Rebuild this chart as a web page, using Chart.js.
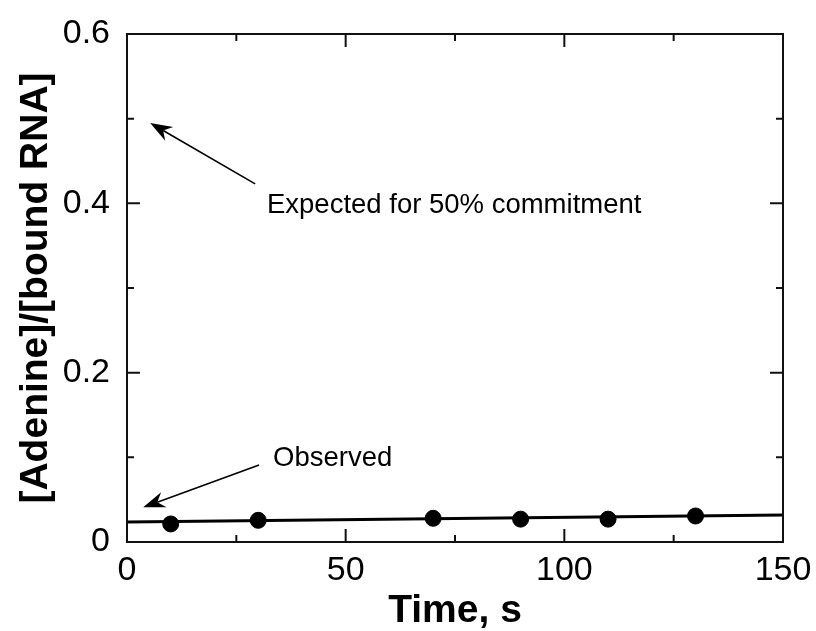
<!DOCTYPE html>
<html>
<head>
<meta charset="utf-8">
<title>Adenine / bound RNA vs time</title>
<script src="https://cdn.jsdelivr.net/npm/chart.js"></script>
<style>
  html, body { margin: 0; padding: 0; background: #fff; }
</style>
</head>
<body>
<canvas id="chart" width="816" height="631"></canvas>
<script>
// observed points
const timeS = [10, 30, 70, 90, 110, 130];
const ratio = [0.0213, 0.0256, 0.028, 0.027, 0.027, 0.0307];
// linear fit, read at the two ends of the time axis
const fitTime = [0, 150];
const fitRatio = [0.0236, 0.032];
// tick marks (drawn inward on all four sides)
const xMajor = [0, 50, 100, 150];
const xMinor = [25, 75, 125];
const yMajor = [0, 0.2, 0.4, 0.6];
const yMinor = [0.1, 0.3, 0.5];
// arrow notes, in data units: text anchor, arrow tail, arrow head
const noteText = ['Expected for 50% commitment', 'Observed'];
const noteAt = [[32.0, 0.389], [33.4, 0.090]];
const arrowFrom = [[29.3, 0.423], [30.2, 0.091]];
const arrowTo = [[5.3, 0.495], [3.7, 0.041]];

const FONT = '"Liberation Sans", Arial, Helvetica, sans-serif';
Chart.defaults.font.family = FONT;
Chart.defaults.color = '#000';

// box, inward ticks and the arrow notes
const framePlugin = {
  id: 'frame',
  afterDraw(chart) {
    const { ctx, chartArea: a, scales: { x, y } } = chart;
    ctx.save();
    ctx.strokeStyle = '#111';
    ctx.lineWidth = 2;
    ctx.strokeRect(a.left, a.top, a.right - a.left, a.bottom - a.top);

    const xTicks = (vals, len) => vals.forEach(v => {
      const px = x.getPixelForValue(v);
      ctx.beginPath();
      ctx.moveTo(px, a.bottom); ctx.lineTo(px, a.bottom - len);
      ctx.moveTo(px, a.top); ctx.lineTo(px, a.top + len);
      ctx.stroke();
    });
    const yTicks = (vals, len) => vals.forEach(v => {
      const py = y.getPixelForValue(v);
      ctx.beginPath();
      ctx.moveTo(a.left, py); ctx.lineTo(a.left + len, py);
      ctx.moveTo(a.right, py); ctx.lineTo(a.right - len, py);
      ctx.stroke();
    });
    xTicks(xMajor, 13); xTicks(xMinor, 7);
    yTicks(yMajor, 13); yTicks(yMinor, 7);

    // arrows
    ctx.fillStyle = '#000';
    ctx.strokeStyle = '#000';
    for (let i = 0; i < arrowFrom.length; i++) {
      const x0 = x.getPixelForValue(arrowFrom[i][0]), y0 = y.getPixelForValue(arrowFrom[i][1]);
      const x1 = x.getPixelForValue(arrowTo[i][0]), y1 = y.getPixelForValue(arrowTo[i][1]);
      const ang = Math.atan2(y1 - y0, x1 - x0);
      const L = 22, W = 8, N = 15;
      const cos = Math.cos(ang), sin = Math.sin(ang);
      ctx.lineWidth = 1.6;
      ctx.beginPath();
      ctx.moveTo(x0, y0);
      ctx.lineTo(x1 - cos * N, y1 - sin * N);
      ctx.stroke();
      ctx.beginPath();
      ctx.moveTo(x1, y1);
      ctx.lineTo(x1 - cos * L - sin * W, y1 - sin * L + cos * W);
      ctx.lineTo(x1 - cos * N, y1 - sin * N);
      ctx.lineTo(x1 - cos * L + sin * W, y1 - sin * L - cos * W);
      ctx.closePath();
      ctx.fill();
    }

    ctx.font = '27.5px ' + FONT;
    ctx.textAlign = 'left';
    ctx.textBaseline = 'alphabetic';
    noteText.forEach((t, i) => {
      ctx.fillText(t, x.getPixelForValue(noteAt[i][0]), y.getPixelForValue(noteAt[i][1]));
    });
    ctx.restore();
  }
};

const ctx = document.getElementById('chart').getContext('2d');
new Chart(ctx, {
  type: 'scatter',
  data: {
    datasets: [
      {
        label: 'Observed',
        data: timeS.map((t, i) => ({ x: t, y: ratio[i] })),
        pointRadius: 8,
        pointBackgroundColor: '#000',
        pointBorderColor: '#000',
        showLine: false,
        order: 0
      },
      {
        label: 'Fit',
        data: fitTime.map((t, i) => ({ x: t, y: fitRatio[i] })),
        showLine: true,
        pointRadius: 0,
        borderColor: '#000',
        borderWidth: 3,
        order: 1
      }
    ]
  },
  options: {
    responsive: false,
    animation: false,
    layout: { padding: { top: 34, right: 33, left: 0, bottom: 0 } },
    plugins: { legend: { display: false }, tooltip: { enabled: false } },
    scales: {
      x: {
        type: 'linear',
        min: 0,
        max: 150,
        grid: { display: false },
        border: { display: false },
        ticks: { stepSize: 50, font: { size: 34 }, padding: 0 },
        title: {
          display: true,
          text: 'Time, s',
          font: { size: 39, weight: 'bold', lineHeight: 1.0 },
          padding: { top: 0, bottom: 0 }
        },
        afterFit: s => { s.height = 89; }
      },
      y: {
        min: 0,
        max: 0.6,
        grid: { display: false },
        border: { display: false },
        ticks: {
          stepSize: 0.2,
          font: { size: 34 },
          padding: 9,
          callback: v => (v === 0 ? '0' : v.toFixed(1))
        },
        title: {
          display: true,
          text: '[Adenine]/[bound RNA]',
          font: { size: 39, weight: 'bold', lineHeight: 1.0 },
          padding: { top: 17, bottom: 0 }
        },
        afterFit: s => { s.width = 127; }
      }
    }
  },
  plugins: [framePlugin]
});
</script>
</body>
</html>
